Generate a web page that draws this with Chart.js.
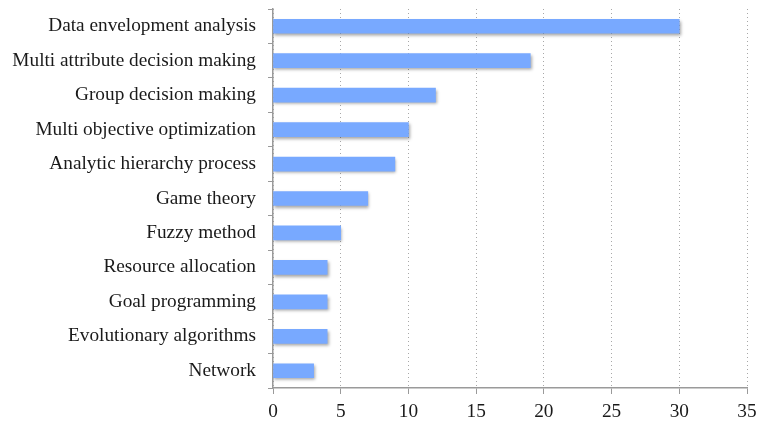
<!DOCTYPE html>
<html>
<head>
<meta charset="utf-8">
<script src="https://cdn.jsdelivr.net/npm/chart.js@4/dist/chart.umd.min.js"></script>
<style>
html,body{margin:0;padding:0;background:#fff;}
#wrap{width:758px;height:424px;}
</style>
</head>
<body>
<div id="wrap"><canvas id="c" width="758" height="424"></canvas></div>
<script>
const categories = [
  "Data envelopment analysis",
  "Multi attribute decision making",
  "Group decision making",
  "Multi objective optimization",
  "Analytic hierarchy process",
  "Game theory",
  "Fuzzy method",
  "Resource allocation",
  "Goal programming",
  "Evolutionary algorithms",
  "Network"
];
const counts = [30, 19, 12, 10, 9, 7, 5, 4, 4, 4, 3];
const xTicks = [0, 5, 10, 15, 20, 25, 30, 35];

const shadowPlugin = {
  id: 'barShadow',
  beforeDatasetsDraw(chart) {
    const ctx = chart.ctx;
    ctx.save();
    ctx.shadowColor = 'rgba(0,0,0,0.35)';
    ctx.shadowBlur = 3;
    ctx.shadowOffsetX = 1;
    ctx.shadowOffsetY = 2;
  },
  afterDatasetsDraw(chart) {
    chart.ctx.restore();
  }
};

Chart.defaults.font.family = '"Liberation Serif", "Times New Roman", serif';
Chart.defaults.color = '#1a1a1a';

new Chart(document.getElementById('c'), {
  type: 'bar',
  data: {
    labels: categories,
    datasets: [{
      data: counts,
      backgroundColor: '#78a9ff',
      borderWidth: 0,
      barThickness: 14
    }]
  },
  options: {
    indexAxis: 'y',
    responsive: false,
    animation: false,
    devicePixelRatio: 1,
    layout: { padding: { left: 0, right: 11, top: 9, bottom: 0 } },
    plugins: { legend: { display: false }, tooltip: { enabled: false } },
    scales: {
      x: {
        min: 0, max: 35,
        afterBuildTicks(scale) { scale.ticks = xTicks.map(v => ({ value: v })); },
        afterFit(scale) { scale.height = 36; scale.paddingLeft = 0; scale.paddingRight = 0; },
        ticks: { font: { size: 19.3 }, padding: 6, color: '#1a1a1a' },
        grid: {
          color: '#a8a8a8',
          lineWidth: 1,
          tickLength: 6,
          tickColor: '#9a9a9a',
          tickBorderDash: []
        },
        border: { display: true, color: '#9a9a9a', width: 1.5, dash: [1, 3] }
      },
      y: {
        afterFit(scale) { scale.width = 273; scale.paddingTop = 0; scale.paddingBottom = 0; },
        ticks: { font: { size: 19.3 }, padding: 12, color: '#1a1a1a' },
        grid: {
          offset: true,
          drawOnChartArea: false,
          tickLength: 5,
          tickColor: '#9a9a9a'
        },
        border: { display: true, color: '#9a9a9a', width: 1.5 }
      }
    }
  },
  plugins: [shadowPlugin]
});
</script>
</body>
</html>
